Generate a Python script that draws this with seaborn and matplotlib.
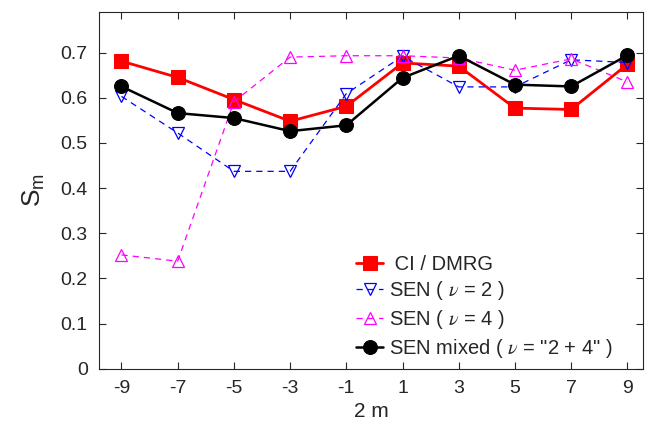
import numpy as np
import pandas as pd
import matplotlib
matplotlib.use('Agg')
import matplotlib.pyplot as plt
import seaborn as sns

# Data
two_m = [-9, -7, -5, -3, -1, 1, 3, 5, 7, 9]
ci_dmrg = [0.681, 0.645, 0.596, 0.548, 0.581, 0.677, 0.670, 0.577, 0.574, 0.674]
sen_nu2 = [0.603, 0.522, 0.437, 0.437, 0.609, 0.692, 0.624, 0.624, 0.684, 0.678]
sen_nu4 = [0.252, 0.238, 0.591, 0.690, 0.693, 0.693, 0.688, 0.661, 0.686, 0.635]
sen_mixed = [0.625, 0.566, 0.555, 0.526, 0.539, 0.644, 0.693, 0.629, 0.625, 0.694]

labels = [' CI / DMRG', r'SEN ( $\nu$ = 2 )', r'SEN ( $\nu$ = 4 )',
          r'SEN mixed ( $\nu$ = "2 + 4" )']
y_ticks = [0, 0.1, 0.2, 0.3, 0.4, 0.5, 0.6, 0.7]

sns.set_style('ticks')
plt.rcParams['font.family'] = ['Liberation Sans', 'DejaVu Sans']
plt.rcParams['mathtext.fontset'] = 'stix'

fig = plt.figure(figsize=(6.49, 4.34), dpi=100)
ax = fig.add_axes([0.1525, 0.1505, 0.838, 0.822])

# CI / DMRG
sns.lineplot(x=two_m, y=ci_dmrg, ax=ax, color='red', lw=2, marker='s',
             ms=10, mec='red', label=labels[0])
# SEN nu = 2
sns.lineplot(x=two_m, y=sen_nu2, ax=ax, color='blue', lw=0.9, ls=(0, (5, 4)),
             marker='v', ms=8, mfc='none', mec='blue', mew=0.9, label=labels[1])
# SEN nu = 4
sns.lineplot(x=two_m, y=sen_nu4, ax=ax, color='magenta', lw=0.9, ls=(0, (5, 4)),
             marker='^', ms=8, mfc='none', mec='magenta', mew=0.9, label=labels[2])
# SEN mixed
sns.lineplot(x=two_m, y=sen_mixed, ax=ax, color='black', lw=1.8, marker='o',
             ms=10, mec='black', label=labels[3])

ax.set_xlim(-9.8, 9.55)
ax.set_ylim(0, 0.79)
ax.set_xticks(two_m)
ax.set_xticklabels([str(v) for v in two_m])
ax.set_yticks(y_ticks)
ax.set_yticklabels(['0'] + [f'{v:.1f}' for v in y_ticks[1:]])

ax.tick_params(direction='in', top=True, right=True, length=5, width=0.8,
               labelsize=14, colors='#262626', pad=8)
for sp in ax.spines.values():
    sp.set_color('#262626')
    sp.set_linewidth(0.8)

ax.set_xlabel('2 m', fontsize=15, color='#262626', labelpad=4)
ax.set_ylabel(r'$\mathregular{S_m}$', fontsize=19, color='#262626', labelpad=10)

leg = ax.legend(loc='upper left', bbox_to_anchor=(0.458, 0.342), frameon=False,
                fontsize=14.5, handlelength=1.35, handletextpad=0.3,
                labelspacing=0.28, borderaxespad=0)

fig.savefig('out.png', dpi=100)
